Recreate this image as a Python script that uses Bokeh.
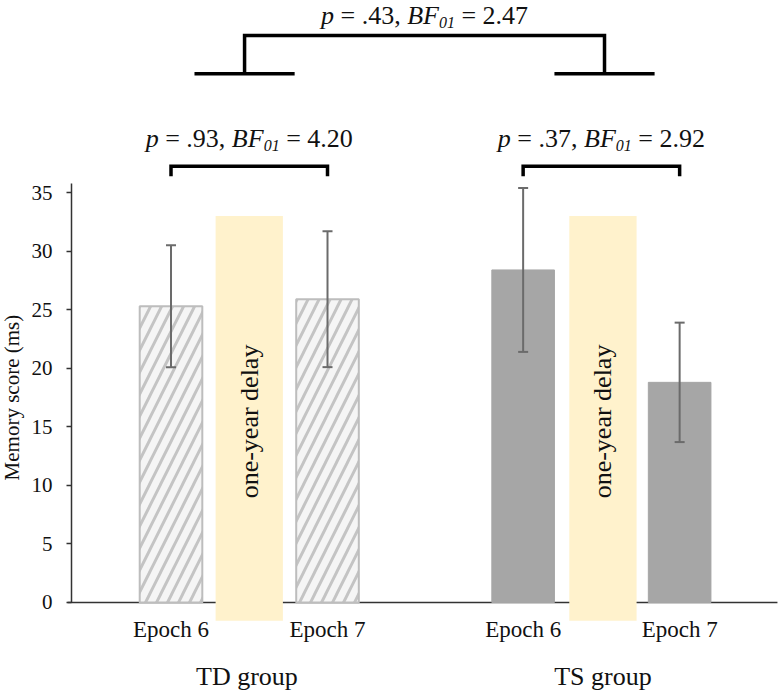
import math
from bokeh.plotting import figure
from bokeh.models import (Range1d, LinearAxis, FixedTicker, Whisker, TeeHead,
                          ColumnDataSource)
from bokeh.core.properties import value
from bokeh.embed import file_html
from bokeh.resources import INLINE

# ---------------- data ----------------
groups = ["TD group", "TS group"]
epochs = ["Epoch 6", "Epoch 7"]
td_mean = [25.3, 25.9]
td_err = [5.2, 5.8]
ts_mean = [28.4, 18.8]
ts_err = [7.0, 5.1]
y_ticks = [0, 5, 10, 15, 20, 25, 30, 35]
y_title = "Memory score (ms)"
delay_label = "one-year delay"
within_p = [".93", ".37"]
within_bf = ["4.20", "2.92"]
between_p = ".43"
between_bf = "2.47"

# ---------------- layout (data units) ----------------
td_x = [1.0, 3.0]
ts_x = [5.5, 7.5]
delay_x = [2.0, 6.52]
group_x = [1.97, 6.52]
top_anchor_x = [1.94, 6.54]
bar_w = 0.80
delay_w = 0.86
delay_top = 33.0
delay_bottom = -1.55
axis_x = -0.2716

FONT = "Liberation Serif"
BLACK = "#111111"

p = figure(width=780, height=692,
           x_range=Range1d(-1.179, 8.789), y_range=Range1d(-7.686, 51.41),
           x_axis_type=None, y_axis_type=None,
           toolbar_location=None, output_backend="svg",
           min_border_left=0, min_border_right=0, min_border_top=0, min_border_bottom=0)
p.outline_line_color = None
p.background_fill_color = "white"
p.border_fill_color = "white"

# y axis (drawn at a fixed location inside the frame)
yax = LinearAxis(ticker=FixedTicker(ticks=y_ticks), bounds=(0, 35.8), fixed_location=axis_x)
yax.major_tick_out = 5
yax.major_tick_in = 0
yax.minor_tick_out = 0
yax.minor_tick_in = 0
yax.axis_line_color = "#333333"
yax.axis_line_width = 1.5
yax.major_tick_line_color = "#333333"
yax.major_tick_line_width = 1.5
yax.major_label_text_font = FONT
yax.major_label_text_font_size = "21px"
yax.major_label_text_color = BLACK
yax.major_label_standoff = 14
p.add_layout(yax, "left")

# baseline (under the bars and the delay panels)
p.segment(x0=[axis_x - 0.05], y0=[0], x1=[8.75], y1=[0], line_color="#333333",
          line_width=1.5, level="underlay")

# delay panels
p.quad(left=[x - delay_w / 2 for x in delay_x], right=[x + delay_w / 2 for x in delay_x],
       bottom=delay_bottom, top=delay_top, fill_color="#fff2cc", line_color=None)

# bars
p.vbar(x=td_x, top=td_mean, width=bar_w, bottom=0,
       fill_color="#f5f5f5", line_color="#bdbdbd", line_width=2,
       hatch_pattern="/", hatch_color="#c4c4c4", hatch_weight=3, hatch_scale=22)
p.vbar(x=ts_x, top=ts_mean, width=bar_w, bottom=0,
       fill_color="#a6a6a6", line_color="#a6a6a6", line_width=1)

# error bars
xs = td_x + ts_x
means = td_mean + ts_mean
errs = td_err + ts_err
src = ColumnDataSource(dict(x=xs,
                            upper=[m + e for m, e in zip(means, errs)],
                            lower=[m - e for m, e in zip(means, errs)]))
EB = "#6b6b6b"
p.add_layout(Whisker(source=src, base="x", upper="upper", lower="lower",
                     line_color=EB, line_width=2, level="annotation",
                     upper_head=TeeHead(size=10, line_color=EB, line_width=2),
                     lower_head=TeeHead(size=10, line_color=EB, line_width=2)))

# delay text
p.text(x=delay_x, y=[15.46, 15.46], text=[delay_label, delay_label], angle=math.pi / 2,
       text_align="center", text_baseline="middle", text_font=value(FONT),
       text_font_size=value("26px"), text_color=BLACK)

# y-axis title
p.text(x=[-1.026], y=[17.5], text=[y_title], angle=math.pi / 2,
       text_align="center", text_baseline="middle", text_font=value(FONT),
       text_font_size=value("21px"), text_color=BLACK)

# epoch labels
p.text(x=xs, y=[-2.31] * 4, text=epochs * 2, text_align="center",
       text_baseline="alphabetic", text_font=value(FONT),
       text_font_size=value("23px"), text_color=BLACK)

# group labels
p.text(x=group_x, y=[-6.29, -6.29], text=groups, text_align="center",
       text_baseline="alphabetic", text_font=value(FONT),
       text_font_size=value("26px"), text_color=BLACK)

# brackets
LW = 3.5
bx, by = [], []
for xa, xb in [(td_x[0], td_x[1]), (ts_x[0], ts_x[1])]:
    bx.append([xa, xa, xb, xb])
    by.append([36.41, 37.26, 37.26, 36.41])
a, b = top_anchor_x
bx.append([a, a, b, b])
by.append([45.15, 48.42, 48.42, 45.15])
for c in top_anchor_x:
    bx.append([c - 0.64, c + 0.64])
    by.append([45.15, 45.15])
p.multi_line(xs=bx, ys=by, line_color="black", line_width=LW, line_join="miter")

# statistics annotations with italic p, BF and subscript 01
REG = {" ": 0.25, "=": 0.564, ".": 0.25, ",": 0.25}
ITA = {"p": 0.5, "B": 0.611, "F": 0.611}


def width(s, table, size):
    return sum(table.get(ch, 0.5) for ch in s) * size


def stat_label(cx, base_y, pv, bf, size=26, sub_size=16, sub_drop=0.6):
    sp = 0.25 * size
    toks = [("p", "italic", size, 0.0, 0.0, ITA),
            ("= %s," % pv, "normal", size, 0.0, sp, REG),
            ("BF", "italic", size, 0.0, sp, ITA),
            ("01", "italic", sub_size, sub_drop, 0.0, ITA),
            ("= %s" % bf, "normal", size, 0.0, sp, REG)]
    total = sum(t[4] + width(t[0], t[5], t[2]) for t in toks)
    off = -total / 2
    for s, style, sz, drop, before, tab in toks:
        off += before
        p.text(x=[cx], y=[base_y - drop], text=[s], x_offset=off,
               text_align="left", text_baseline="alphabetic",
               text_font=value(FONT), text_font_style=value(style),
               text_font_size=value("%dpx" % sz), text_color=BLACK)
        off += width(s, tab, sz)


stat_label((td_x[0] + td_x[1]) / 2, 39.66, within_p[0], within_bf[0])
stat_label((ts_x[0] + ts_x[1]) / 2, 39.66, within_p[1], within_bf[1])
stat_label((a + b) / 2, 50.1, between_p, between_bf)

open("out.html", "w").write(file_html(p, INLINE))
